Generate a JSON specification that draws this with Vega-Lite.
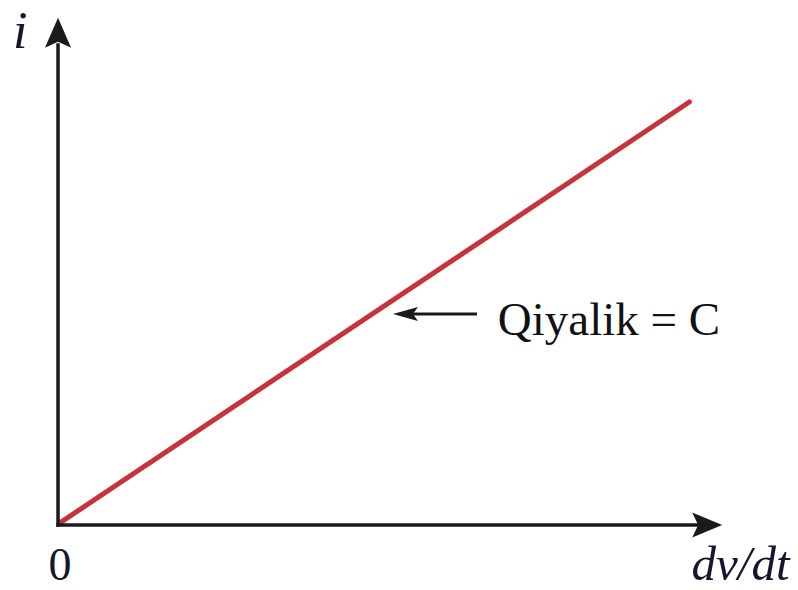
{
  "$schema": "https://vega.github.io/schema/vega-lite/v6.json",
  "width": 798,
  "height": 590,
  "autosize": "none",
  "padding": 0,
  "background": "white",
  "config": {"view": {"stroke": null}},
  "datasets": {
    "axes": [
      {"name": "i", "x": 0, "y": 0, "x2": 0, "y2": 11.35},
      {"name": "dv/dt", "x": 0, "y": 0, "x2": 10.1, "y2": 0}
    ],
    "line": [
      {"x": 0.03, "y": 0.05},
      {"x": 9.99, "y": 10.0}
    ],
    "tipUp": [{"x": 0, "y": 11.99}],
    "tipRight": [{"x": 10.51, "y": 0}],
    "noteArrow": [{"x": 5.55, "y": 4.99, "x2": 6.63, "y2": 4.99}],
    "noteTip": [{"x": 5.3, "y": 4.99}],
    "iLabel": [{"x": -0.6, "y": 11.28, "label": "i"}],
    "xLabel": [{"x": 10.8, "y": -1.3, "label": "dv/dt"}],
    "origin": [{"x": 0.03, "y": -1.3, "label": "0"}],
    "note": [{"x": 6.96, "y": 4.49, "label": "Qiyalik = C"}]
  },
  "encoding": {
    "x": {"field": "x", "type": "quantitative", "axis": null, "scale": {"domain": [-0.918, 11.709], "nice": false, "zero": false}},
    "y": {"field": "y", "type": "quantitative", "axis": null, "scale": {"domain": [-1.537, 12.411], "nice": false, "zero": false}}
  },
  "layer": [
    {
      "data": {"name": "line"},
      "mark": {"type": "line", "color": "#c8323c", "strokeWidth": 5, "strokeCap": "round"}
    },
    {
      "data": {"name": "axes"},
      "mark": {"type": "rule", "color": "#1a1a1a", "strokeWidth": 3.5, "strokeCap": "square"},
      "encoding": {"x2": {"field": "x2"}, "y2": {"field": "y2"}}
    },
    {
      "data": {"name": "tipUp"},
      "mark": {"type": "point", "filled": true, "color": "#1a1a1a", "opacity": 1, "size": 900, "shape": "M0,0 L0.87,2 L0,1.6 L-0.87,2 Z"}
    },
    {
      "data": {"name": "tipRight"},
      "mark": {"type": "point", "filled": true, "color": "#1a1a1a", "opacity": 1, "size": 900, "shape": "M0,0 L-2,-0.83 L-1.6,0 L-2,0.83 Z"}
    },
    {
      "data": {"name": "noteArrow"},
      "mark": {"type": "rule", "color": "#1a1a1a", "strokeWidth": 3},
      "encoding": {"x2": {"field": "x2"}, "y2": {"field": "y2"}}
    },
    {
      "data": {"name": "noteTip"},
      "mark": {"type": "point", "filled": true, "color": "#1a1a1a", "opacity": 1, "size": 625, "shape": "M0,0 L2,-0.56 L1.6,0 L2,0.56 Z"}
    },
    {
      "data": {"name": "iLabel"},
      "mark": {"type": "text", "font": "Liberation Serif", "fontStyle": "italic", "fontSize": 52, "color": "#151530", "align": "center", "baseline": "alphabetic"},
      "encoding": {"text": {"field": "label"}}
    },
    {
      "data": {"name": "xLabel"},
      "mark": {"type": "text", "font": "Liberation Serif", "fontStyle": "italic", "fontSize": 49, "color": "#151530", "align": "center", "baseline": "alphabetic"},
      "encoding": {"text": {"field": "label"}}
    },
    {
      "data": {"name": "origin"},
      "mark": {"type": "text", "font": "Liberation Serif", "fontSize": 46, "color": "#151530", "align": "center", "baseline": "alphabetic"},
      "encoding": {"text": {"field": "label"}}
    },
    {
      "data": {"name": "note"},
      "mark": {"type": "text", "font": "Liberation Serif", "fontSize": 47, "color": "#111111", "align": "left", "baseline": "alphabetic"},
      "encoding": {"text": {"field": "label"}}
    }
  ]
}
